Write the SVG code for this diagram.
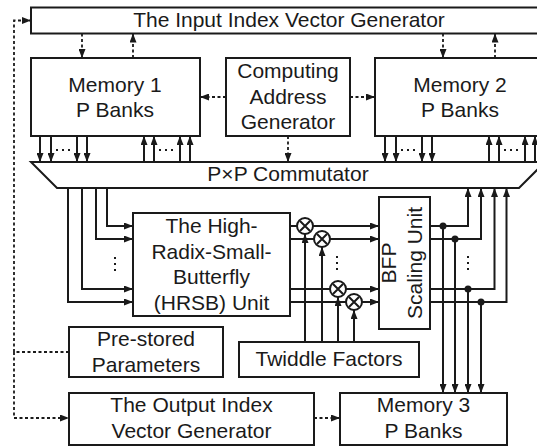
<svg xmlns="http://www.w3.org/2000/svg" width="537" height="447" viewBox="0 0 537 447">
<defs>
<marker id="ah" viewBox="0 0 9 7" markerWidth="9" markerHeight="7" refX="9" refY="3.5" orient="auto" markerUnits="userSpaceOnUse">
<path d="M0,0 L9,3.5 L0,7 z" fill="#1a1a1a"/>
</marker>
</defs>
<style>
.box{fill:#fff;stroke:#1a1a1a;stroke-width:2}
.t{font-family:"Liberation Sans",Arial,sans-serif;font-size:21px;fill:#1a1a1a;text-anchor:middle}
.ln{fill:none;stroke:#1a1a1a;stroke-width:2}
.ar{fill:none;stroke:#1a1a1a;stroke-width:2;marker-end:url(#ah)}
.da{fill:none;stroke:#1a1a1a;stroke-width:1.8;stroke-dasharray:3 2.5;marker-end:url(#ah)}
.dl{fill:none;stroke:#1a1a1a;stroke-width:1.8;stroke-dasharray:3 2.5}
.dots{fill:none;stroke:#1a1a1a;stroke-width:2;stroke-dasharray:2 4}
.mul{fill:#fff;stroke:#1a1a1a;stroke-width:2}
.jn{fill:#1a1a1a}
</style>
<rect width="537" height="447" fill="#fff"/>

<g id="connectors">
<!-- left dashed feedback -->
<path class="dl" d="M69,352 H14"/>
<path class="da" d="M14,352 V20.5 H31"/>
<path class="da" d="M14,352 V418 H69"/>
<!-- input index <-> memories -->
<path class="da" d="M82,33.5 V58"/>
<path class="da" d="M133,58 V33.5"/>
<path class="da" d="M443,33.5 V58"/>
<path class="da" d="M495,58 V33.5"/>
<!-- CAG -->
<path class="da" d="M226,97 H200"/>
<path class="da" d="M350,97 H375"/>
<path class="da" d="M288,136 V162"/>
<!-- memory 1 <-> commutator -->
<path class="ar" d="M40,136 V162"/>
<path class="ar" d="M51,136 V162"/>
<path class="ar" d="M77,136 V162"/>
<path class="ar" d="M87,136 V162"/>
<path class="dots" d="M56,150 H73"/>
<path class="ar" d="M144,162 V136"/>
<path class="ar" d="M154,162 V136"/>
<path class="ar" d="M180,162 V136"/>
<path class="ar" d="M190,162 V136"/>
<path class="dots" d="M159,150 H176"/>
<!-- memory 2 <-> commutator -->
<path class="ar" d="M385,136 V162"/>
<path class="ar" d="M396,136 V162"/>
<path class="ar" d="M422,136 V162"/>
<path class="ar" d="M432,136 V162"/>
<path class="dots" d="M401,150 H418"/>
<path class="ar" d="M489,162 V136"/>
<path class="ar" d="M499,162 V136"/>
<path class="ar" d="M525,162 V136"/>
<path class="ar" d="M535,162 V136"/>
<path class="dots" d="M504,150 H521"/>
<!-- commutator -> HRSB -->
<path class="ar" d="M107,188 V226 H133"/>
<path class="ar" d="M96,188 V239 H133"/>
<path class="ar" d="M82,188 V289 H133"/>
<path class="ar" d="M68,188 V302 H133"/>
<path class="dots" d="M115,257 V274"/>
<!-- HRSB -> BFP -->
<path class="ar" d="M290,226 H379"/>
<path class="ar" d="M290,239 H379"/>
<path class="ar" d="M290,289 H379"/>
<path class="ar" d="M290,302 H379"/>
<!-- twiddle -> multipliers -->
<path class="ar" d="M305,342 V234"/>
<path class="ar" d="M322,342 V247"/>
<path class="ar" d="M338,342 V297"/>
<path class="ar" d="M354,342 V310"/>
<path class="dots" d="M337,256 V273"/>
<!-- BFP -> commutator -->
<path class="ar" d="M430,226 H468 V188"/>
<path class="ar" d="M430,239 H481 V188"/>
<path class="ar" d="M430,289 H494.5 V188"/>
<path class="ar" d="M430,302 H506.5 V188"/>
<!-- BFP -> memory 3 -->
<path class="ar" d="M443,226 V393"/>
<path class="ar" d="M455,239 V393"/>
<path class="ar" d="M468,289 V393"/>
<path class="ar" d="M481,302 V393"/>
<path class="dots" d="M468,256 V273"/>
<circle class="jn" cx="443" cy="226" r="3.5"/>
<circle class="jn" cx="455" cy="239" r="3.5"/>
<circle class="jn" cx="468" cy="289" r="3.5"/>
<circle class="jn" cx="481" cy="302" r="3.5"/>
<!-- output index -> memory 3 -->
<path class="da" d="M314,418 H340"/>
</g>

<g id="mult1"><circle class="mul" cx="305" cy="226" r="8"/><path class="ln" d="M300,221 L310,231 M310,221 L300,231"/></g>
<g id="mult2"><circle class="mul" cx="322" cy="239" r="8"/><path class="ln" d="M317,234 L327,244 M327,234 L317,244"/></g>
<g id="mult3"><circle class="mul" cx="338" cy="289" r="8"/><path class="ln" d="M333,284 L343,294 M343,284 L333,294"/></g>
<g id="mult4"><circle class="mul" cx="354" cy="302" r="8"/><path class="ln" d="M349,297 L359,307 M359,297 L349,307"/></g>

<g id="input-index">
<rect class="box" x="31" y="7.5" width="520" height="26"/>
<text class="t" x="289" y="27">The Input Index Vector Generator</text>
</g>

<g id="memory1">
<rect class="box" x="31" y="58" width="169" height="78"/>
<text class="t" x="115" y="92">Memory 1</text>
<text class="t" x="115" y="117">P Banks</text>
</g>

<g id="cag">
<rect class="box" x="226" y="58" width="124" height="78"/>
<text class="t" x="288" y="78">Computing</text>
<text class="t" x="288" y="103.5">Address</text>
<text class="t" x="288" y="129">Generator</text>
</g>

<g id="memory2">
<rect class="box" x="375" y="58" width="176" height="78"/>
<text class="t" x="460" y="92">Memory 2</text>
<text class="t" x="460" y="117">P Banks</text>
</g>

<g id="commutator">
<polygon class="box" points="31,162 545,162 519,188 57,188"/>
<text class="t" x="288" y="181">P×P Commutator</text>
</g>

<g id="hrsb">
<rect class="box" x="133" y="213" width="157" height="103"/>
<text class="t" x="211.5" y="233">The High-</text>
<text class="t" x="211.5" y="258.5">Radix-Small-</text>
<text class="t" x="211.5" y="284">Butterfly</text>
<text class="t" x="211.5" y="309.5">(HRSB) Unit</text>
</g>

<g id="bfp">
<rect class="box" x="379" y="197" width="51" height="132"/>
<text class="t" transform="translate(395.5,263) rotate(-90)">BFP</text>
<text class="t" transform="translate(422,263) rotate(-90)">Scaling Unit</text>
</g>

<g id="prestored">
<rect class="box" x="69" y="327" width="154" height="50"/>
<text class="t" x="146" y="345.5">Pre-stored</text>
<text class="t" x="146" y="371.5">Parameters</text>
</g>

<g id="twiddle">
<rect class="box" x="239" y="342" width="180" height="35"/>
<text class="t" x="329" y="366">Twiddle Factors</text>
</g>

<g id="output-index">
<rect class="box" x="69" y="393" width="245" height="52"/>
<text class="t" x="191.5" y="412">The Output Index</text>
<text class="t" x="191.5" y="438">Vector Generator</text>
</g>

<g id="memory3">
<rect class="box" x="340" y="393" width="167" height="52"/>
<text class="t" x="423.5" y="412">Memory 3</text>
<text class="t" x="423.5" y="438">P Banks</text>
</g>
</svg>
